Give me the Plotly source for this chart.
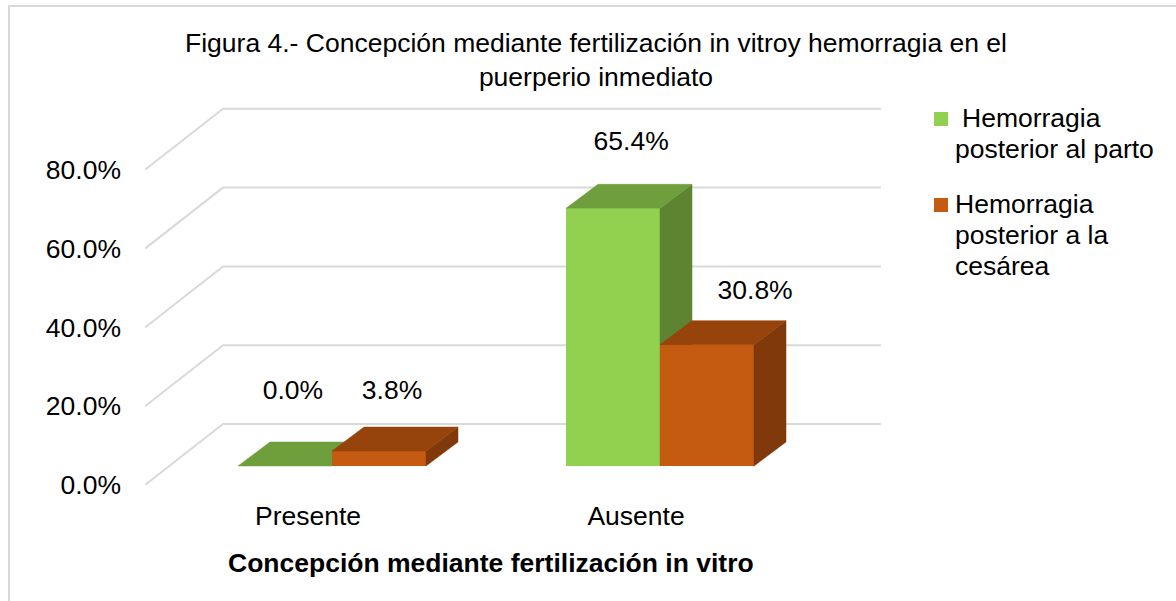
"""Figura 4: barras pseudo-3D con Plotly"""
import plotly.graph_objects as go

categorias = ['Presente', 'Ausente']
parto = [0.0, 65.4]
cesarea = [3.8, 30.8]
y_ticks = [0, 20, 40, 60, 80]
y_labels = ['0.0%', '20.0%', '40.0%', '60.0%', '80.0%']
leyenda_parto = ['Hemorragia', 'posterior al parto']
leyenda_cesarea = ['Hemorragia', 'posterior a la', 'cesárea']

W, H = 1176, 601
# área del plot en píxeles: el eje x va de PX0 a PX1 y el 0% está en PY0
PX0, PX1, PY0, PY1 = 145, 881, 485, 60
PX_POR_UNIDAD = 3.94      # px por 1% en vertical
PX_POR_CAT = 328          # px entre categorías
CENTRO_0 = 332            # px del centro del primer grupo

ymin = 0
ymax = (PY0 - PY1) / PX_POR_UNIDAD
xmin = (PX0 - CENTRO_0) / PX_POR_CAT
xmax = (PX1 - CENTRO_0) / PX_POR_CAT

# perspectiva en unidades de eje
ANCHO = 94 / PX_POR_CAT
DX = 32 / PX_POR_CAT
DY = 24 / PX_POR_UNIDAD
PISO = 19 / PX_POR_UNIDAD
PARED_X = (223 - CENTRO_0) / PX_POR_CAT
PARED_Y = 61 / PX_POR_UNIDAD

VERDE, VERDE_TOP, VERDE_LADO = '#92D050', '#6F9E3C', '#5E8432'
NARANJA, NARANJA_TOP, NARANJA_LADO = '#C55A11', '#96430C', '#7F390A'
GRID = '#D9D9D9'
TAM = 26.5


def cara(xs, ys, color, eje):
    return go.Scatter(x=xs, y=ys, xaxis='x' + eje, yaxis='y' + eje, mode='lines',
                      fill='toself', fillcolor=color,
                      line=dict(color=color, width=0.5), showlegend=False,
                      hoverinfo='skip')


def barra_3d(pos, izq, valor, top, lado, eje):
    base = PISO
    der = izq + ANCHO
    techo = base + valor
    if valor > 0:
        fig.add_trace(cara([der, der + DX, der + DX, der, der],
                           [base, base + DY, techo + DY, techo, base], lado, eje))
    fig.add_trace(cara([izq, izq + DX, der + DX, der, izq],
                       [techo, techo + DY, techo + DY, techo, techo], top, eje))


fig = go.Figure()

# rejilla: pared lateral y pared del fondo (capa de abajo)
for t in y_ticks:
    fig.add_trace(go.Scatter(
        x=[xmin, PARED_X, xmax], y=[t, t + PARED_Y, t + PARED_Y], mode='lines',
        line=dict(color=GRID, width=2), showlegend=False, hoverinfo='skip'))

# serie verde en su propia capa, la naranja queda delante
fig.add_trace(go.Bar(x=[0, 1], y=parto, base=PISO, width=ANCHO, offset=-ANCHO,
                     xaxis='x2', yaxis='y2',
                     marker=dict(color=VERDE, line=dict(width=0)),
                     name='Hemorragia posterior al parto', showlegend=False,
                     hovertemplate='%{y:.1f}%<extra></extra>'))
for pos in range(len(categorias)):
    barra_3d(pos, pos - ANCHO, parto[pos], VERDE_TOP, VERDE_LADO, '2')

fig.add_trace(go.Bar(x=[0, 1], y=cesarea, base=PISO, width=ANCHO, offset=0,
                     xaxis='x3', yaxis='y3',
                     marker=dict(color=NARANJA, line=dict(width=0)),
                     name='Hemorragia posterior a la cesárea', showlegend=False,
                     hovertemplate='%{y:.1f}%<extra></extra>'))
for pos in range(len(categorias)):
    barra_3d(pos, pos, cesarea[pos], NARANJA_TOP, NARANJA_LADO, '3')

# etiquetas de datos, flotando sobre cada barra
fig.add_trace(go.Scatter(
    x=[p + d for p, d in zip([0, 1], [-0.119, -0.088])],
    y=[v + d for v, d in zip(parto, [23.6, 21.4])],
    xaxis='x3', yaxis='y3', mode='text', text=[f'{v:.1f}%' for v in parto],
    textposition='middle center', textfont=dict(size=TAM, color='#000000'),
    showlegend=False, hoverinfo='skip'))
fig.add_trace(go.Scatter(
    x=[p + d for p, d in zip([0, 1], [0.183, 0.29])],
    y=[v + d for v, d in zip(cesarea, [19.8, 18.2])],
    xaxis='x3', yaxis='y3', mode='text', text=[f'{v:.1f}%' for v in cesarea],
    textposition='middle center', textfont=dict(size=TAM, color='#000000'),
    showlegend=False, hoverinfo='skip'))

# leyenda a mano: el cuadro va en la primera línea del texto
anotaciones = [dict(text='<b>Concepción mediante fertilización in vitro</b>',
                    xref='paper', yref='paper', x=491 / W, y=1 - 563 / H,
                    xanchor='center', yanchor='middle', showarrow=False,
                    font=dict(size=TAM))]
lineas_leyenda = [(962, 118, leyenda_parto[0]), (955, 149, leyenda_parto[1]),
                  (955, 204, leyenda_cesarea[0]), (955, 235, leyenda_cesarea[1]),
                  (955, 266, leyenda_cesarea[2])]
for px, py, texto in lineas_leyenda:
    anotaciones.append(dict(text=texto, xref='paper', yref='paper', x=px / W,
                            y=1 - py / H, xanchor='left', yanchor='middle',
                            showarrow=False, font=dict(size=TAM), borderpad=0, xshift=-1))

formas = [dict(type='rect', xref='paper', yref='paper', x0=9 / W, x1=1400 / W,
               y0=-0.1, y1=1 - 6 / H, line=dict(color=GRID, width=2),
               fillcolor='rgba(0,0,0,0)')]
for py, color in [(112, VERDE), (198, NARANJA)]:
    formas.append(dict(type='rect', xref='paper', yref='paper', x0=934 / W, x1=948 / W,
                       y0=1 - (py + 14) / H, y1=1 - py / H, line=dict(width=0),
                       fillcolor=color))

eje_oculto_x = dict(overlaying='x', range=[xmin, xmax], visible=False)
eje_oculto_y = dict(overlaying='y', range=[ymin, ymax], visible=False)

fig.update_layout(
    width=W, height=H, autosize=False,
    barmode='overlay', showlegend=False,
    paper_bgcolor='white', plot_bgcolor='rgba(0,0,0,0)',
    font=dict(family='Liberation Sans, Arial, sans-serif', size=TAM, color='#000000'),
    margin=dict(l=0, r=0, t=0, b=0),
    title=dict(text='Figura 4.- Concepción mediante fertilización in vitroy hemorragia en el<br>puerperio inmediato',
               x=596 / W, xanchor='center', y=1 - 52 / H, yanchor='middle',
               font=dict(size=TAM)),
    xaxis=dict(domain=[PX0 / W, PX1 / W], range=[xmin, xmax], automargin=False,
               tickvals=[-0.073, 0.927], ticktext=categorias, showgrid=False,
               zeroline=False, showline=False, ticks='', ticklabelstandoff=12),
    yaxis=dict(domain=[1 - PY0 / H, 1 - PY1 / H], range=[ymin, ymax], automargin=False,
               tickvals=y_ticks, ticktext=y_labels, showgrid=False,
               zeroline=False, showline=False, ticks='', ticklabelstandoff=23),
    xaxis2=eje_oculto_x, yaxis2=eje_oculto_y,
    xaxis3=eje_oculto_x, yaxis3=eje_oculto_y,
    annotations=anotaciones,
    shapes=formas,
)

fig.write_html("out.html", post_script="document.body.style.margin='0';",
               config=dict(displayModeBar=False))
